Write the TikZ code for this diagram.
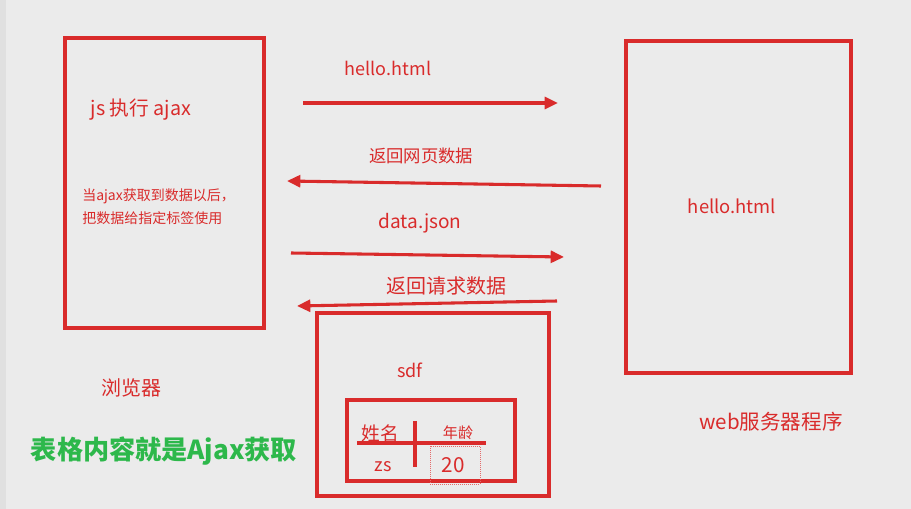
\documentclass[tikz,border=0pt]{standalone}
\usepackage{fontspec}
\setmainfont{Noto Sans CJK SC}
\usetikzlibrary{arrows.meta}
\definecolor{bg}{HTML}{EBEBEB}
\definecolor{rd}{HTML}{D92B2B}
\definecolor{gn}{HTML}{2DB84B}
\tikzset{
  box/.style={draw=rd, line width=2.3pt},
  arr/.style={draw=rd, line width=2.3pt, -{Triangle[length=10pt,width=9pt]}},
  lbl/.style={text=rd, inner sep=0pt, anchor=center},
}
\begin{document}
\begin{tikzpicture}[x=0.75pt,y=-0.75pt]
\useasboundingbox (0,0) rectangle (911,509);
\fill[bg] (0,0) rectangle (911,509);
\fill[black!12] (0,0) rectangle (6,509);
% boxes
\draw[box] (65,38) rectangle (264,328);
\draw[box] (626,41) rectangle (851,373);
\draw[box] (317,313) rectangle (549,496);
\draw[box] (347,400) rectangle (515,481);
% arrow endpoints
\coordinate (a1s) at (303,103); \coordinate (a1e) at (558,103);
\coordinate (a2s) at (601,186); \coordinate (a2e) at (287,181);
\coordinate (a3s) at (291,253); \coordinate (a3e) at (564,257);
\coordinate (a4s) at (557,301); \coordinate (a4e) at (297,306);
\draw[arr] (a1s) -- (a1e);
\draw[arr] (a2s) -- (a2e);
\draw[arr] (a3s) -- (a3e);
\draw[arr] (a4s) -- (a4e);
% labels
\node[lbl, font=\fontsize{13.5}{16}\selectfont] (l1) at (388,68) {hello.html};
\node[lbl, font=\fontsize{13}{15}\selectfont] (l2) at (421,156) {返回网页数据};
\node[lbl, font=\fontsize{14.3}{16}\selectfont] (l3) at (420,223) {data.json};
\node[lbl, font=\fontsize{15}{17}\selectfont] (l4) at (446,286) {返回请求数据};
\node[lbl, font=\fontsize{14.8}{17}\selectfont] (js) at (141,110) {js 执行 ajax};
\node[lbl, font=\fontsize{10.5}{17}\selectfont, align=left, anchor=west] (desc) at (82,207) {当ajax获取到数据以后，\\把数据给指定标签使用};
\node[lbl, font=\fontsize{13.8}{16}\selectfont] (srv) at (732,206) {hello.html};
\node[lbl, font=\fontsize{15}{17}\selectfont] (br) at (131,388) {浏览器};
\node[lbl, font=\fontsize{15.4}{17}\selectfont] (web) at (771,422) {web服务器程序};
\node[lbl, font=\fontsize{13.5}{16}\selectfont] (sdf) at (410,370) {sdf};
\node[text=gn, inner sep=0pt, font=\fontsize{19.6}{22}\selectfont\bfseries] (green) at (164,451) {表格内容就是Ajax获取};
% table
\draw[draw=rd, line width=2.3pt] (357,443) -- (486,443);
\draw[draw=rd, line width=2.3pt] (415,421) -- (415,467);
\draw[draw=rd!70, line width=0.5pt, densely dotted] (430,446) rectangle (480,484);
\node[lbl, font=\fontsize{14}{16}\selectfont] (n1) at (380,433) {姓名};
\node[lbl, font=\fontsize{11.3}{13}\selectfont] (n2) at (458,433) {年龄};
\node[lbl, font=\fontsize{13.5}{16}\selectfont] (v1) at (383,467) {zs};
\node[lbl, font=\fontsize{15.5}{17}\selectfont] (v2) at (453,465) {20};
\end{tikzpicture}
\end{document}
